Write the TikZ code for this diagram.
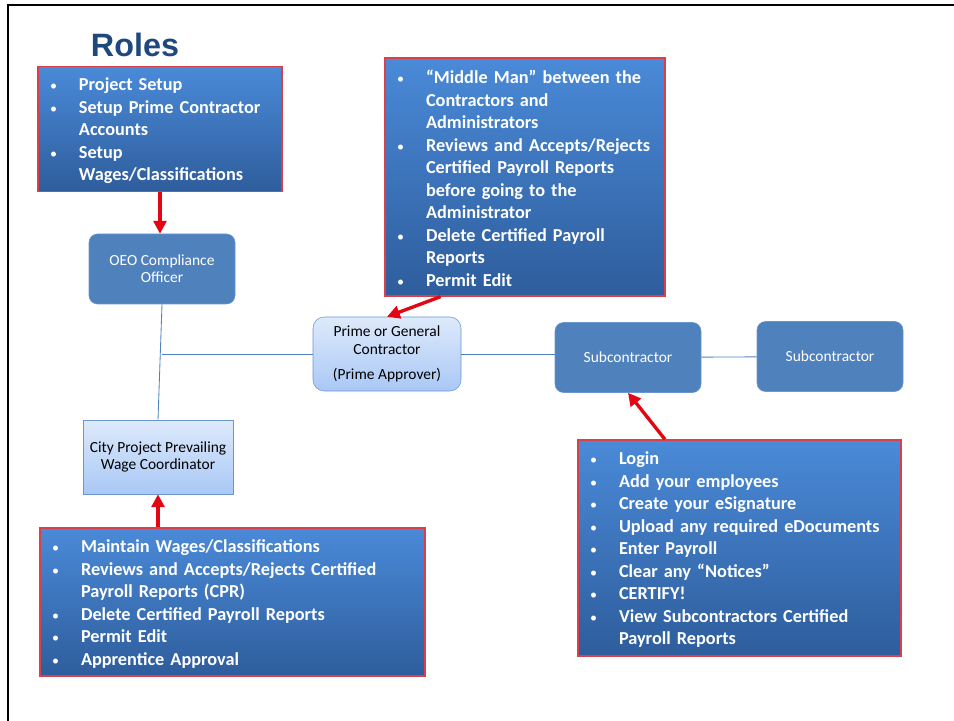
\documentclass[tikz,border=0pt]{standalone}
\usepackage{fontspec}
\setmainfont{Carlito}
\newfontfamily\titlefont{Liberation Sans}
\definecolor{TitleNavy}{HTML}{1F497D}
\definecolor{RoleTop}{HTML}{4A8AD8}
\definecolor{RoleBottom}{HTML}{2E5D9C}
\definecolor{RoleRed}{HTML}{D8404A}
\definecolor{UnitBlue}{HTML}{4F81BD}
\definecolor{UnitEdge}{HTML}{6B97CF}
\definecolor{PaleTop}{HTML}{DEEAFB}
\definecolor{PaleBottom}{HTML}{A9C8F6}
\definecolor{LinkBlue}{HTML}{4F81BD}
\definecolor{ArrowRed}{HTML}{E30613}
\usetikzlibrary{arrows.meta,positioning,calc}
\newcommand{\roleitem}{\par\noindent\hangindent=0.725cm\hangafter=1\makebox[0.725cm][l]{\normalfont\fontsize{10}{10}\selectfont\textbullet}}
\newcommand{\roleend}{\par\vspace{0.15cm}}
\newcommand{\nl}{\hfil\break}

\begin{document}
\begin{tikzpicture}[
roles/.style={draw=RoleRed,line width=0.9pt,top color=RoleTop,bottom color=RoleBottom,text=white,align=left,inner xsep=0.3cm,inner ysep=1pt,font=\fontsize{13}{16}\selectfont\bfseries},
unit/.style={draw=UnitEdge,fill=UnitBlue,rounded corners=6pt,text=white,align=center,minimum width=3.65cm,minimum height=1.75cm,font=\fontsize{11}{12.2}\selectfont},
pale/.style={draw=UnitEdge,top color=PaleTop,bottom color=PaleBottom,align=center,minimum width=3.7cm,minimum height=1.85cm,font=\fontsize{11}{12.6}\selectfont},
link/.style={draw=LinkBlue,line width=0.6pt},
arr/.style={-{Triangle[length=3.2mm,width=3.2mm]},line width=2.4pt,draw=ArrowRed}
]
\useasboundingbox (0,0) rectangle (23.85,-18.025);
\draw[line width=1.4pt] (0.2,-18.025) -- (0.2,-0.125) -- (23.85,-0.125);
\node[font=\titlefont\bfseries\fontsize{23}{27}\selectfont,text=TitleNavy] (title) at (3.375,-1.125) {Roles};
% role boxes
\node[roles,text width=5.5cm,minimum height=3.1cm] (setup) at (4.0,-3.225) {%
\roleitem Project Setup
\roleitem Setup Prime Contractor\nl Accounts
\roleitem Setup\nl Wages/Classifications\roleend};
\node[roles,text width=6.4cm,minimum height=5.95cm] (middle) at (13.125,-4.425) {%
\roleitem ``Middle Man'' between the\nl Contractors and\nl Administrators
\roleitem Reviews and Accepts/Rejects\nl Certified Payroll Reports\nl before going to the\nl Administrator
\roleitem Delete Certified Payroll\nl Reports
\roleitem Permit Edit\roleend};
\node[roles,text width=9.025cm,minimum height=3.7cm] (wages) at (5.8125,-15.05) {%
\roleitem Maintain Wages/Classifications
\roleitem Reviews and Accepts/Rejects Certified\nl Payroll Reports (CPR)
\roleitem Delete Certified Payroll Reports
\roleitem Permit Edit
\roleitem Apprentice Approval\roleend};
\node[roles,text width=7.475cm,minimum height=5.4cm] (tasks) at (18.4875,-13.7) {%
\roleitem Login
\roleitem Add your employees
\roleitem Create your eSignature
\roleitem Upload any required eDocuments
\roleitem Enter Payroll
\roleitem Clear any ``Notices''
\roleitem CERTIFY!
\roleitem View Subcontractors Certified\nl Payroll Reports\roleend};
% parties
\node[unit] (oeo) at (4.05,-6.725) {OEO Compliance\\Officer};
\node[pale,rounded corners=8pt] (prime) at (9.675,-8.85) {Prime or General\\Contractor\\[5pt](Prime Approver)};
\node[unit] (sub1) at (15.7,-8.9375) {Subcontractor};
\node[unit] (sub2) at (20.75,-8.9125) {Subcontractor};
\node[pale,minimum width=3.75cm] (city) at (3.95,-11.425) {City Project Prevailing\\Wage Coordinator};
% links
\draw[link] (oeo.south) -- (city.north);
\draw[link] (prime.west) -- (prime.west -| oeo.south);
\draw[link] (prime.east) -- (prime.east -| sub1.west);
\draw[link] (sub1) -- (sub2);
% arrows
\draw[arr] (setup.south) -- (setup.south |- oeo.north);
\draw[arr] ($(middle.south west)!0.2!(middle.south east)$) -- (prime.north);
\draw[arr] (city.south |- wages.north) -- (city.south);
\draw[arr] ($(tasks.north west)!0.27!(tasks.north east)$) -- (sub1.south);
\end{tikzpicture}
\end{document}
